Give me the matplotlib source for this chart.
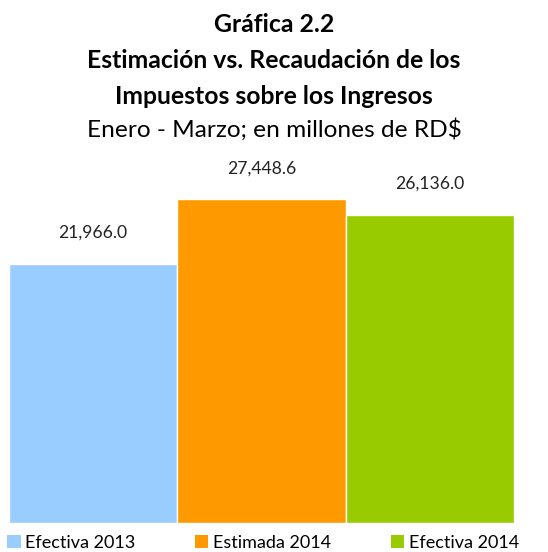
import matplotlib
matplotlib.use("Agg")
import matplotlib.pyplot as plt

categories = ["Efectiva 2013", "Estimada 2014", "Efectiva 2014"]
values = [21966.0, 27448.6, 26136.0]
colors = ["#99CCFF", "#FF9900", "#99CC00"]

W, H = 548, 552
fig = plt.figure(figsize=(W / 100, H / 100), dpi=100)
fam = ["Lato", "DejaVu Sans"]

# axes: x 9..514 px, y bottom 523 px, top 180 px
ax = fig.add_axes([9 / W, (H - 523) / H, (514 - 9) / W, (523 - 180) / H])
x = list(range(len(values)))
bars = ax.bar(x, values, width=1.0, color=colors, edgecolor="white", linewidth=1.0,
              label=categories)
ax.set_xlim(-0.5, len(values) - 0.5)
ax.set_ylim(0, (523 - 180) / 0.01179)
ax.axis("off")

for xi, v in zip(x, values):
    ax.annotate(f"{v:,.1f}", (xi, v), xytext=(0, 22.3), textcoords="offset points",
                ha="center", va="center", fontsize=12.6, family=fam, color="#222222")

title_lines = ["Gráfica 2.2", "Estimación vs. Recaudación de los",
               "Impuestos sobre los Ingresos"]
ys = [25, 61, 96]
for t, yy in zip(title_lines, ys):
    fig.text(0.5, 1 - yy / H, t, ha="center", va="center", fontsize=17.8,
             fontweight="bold", family=fam, color="black")
fig.text(0.5, 1 - 130 / H, "Enero - Marzo; en millones de RD$", ha="center",
         va="center", fontsize=17.6, family=fam, color="black")

leg = fig.legend(bars, categories, loc="center", bbox_to_anchor=(263 / W, 1 - 543 / H),
                 ncol=3, frameon=False, prop={"family": fam, "size": 13},
                 handlelength=0.75, handleheight=0.7, handletextpad=0.25,
                 columnspacing=3.3, borderpad=0, borderaxespad=0)
for h in leg.legend_handles:
    h.set_edgecolor("none")

fig.savefig("out.png", dpi=100)
